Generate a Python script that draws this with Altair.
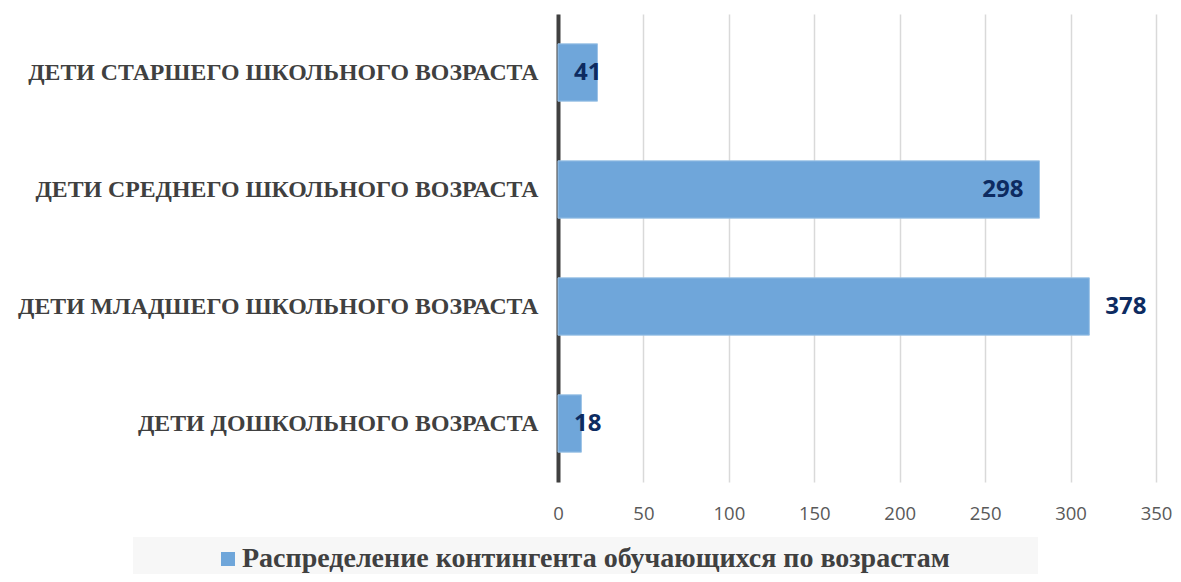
import altair as alt
import pandas as pd

categories = [
    "ДЕТИ СТАРШЕГО ШКОЛЬНОГО ВОЗРАСТА",
    "ДЕТИ СРЕДНЕГО ШКОЛЬНОГО ВОЗРАСТА",
    "ДЕТИ МЛАДШЕГО ШКОЛЬНОГО ВОЗРАСТА",
    "ДЕТИ ДОШКОЛЬНОГО ВОЗРАСТА",
]
bar_values = [23.1, 281.8, 311.0, 13.7]
label_values = [41, 298, 378, 18]
label_place = ["base", "inside", "outside", "base"]
series_name = "Распределение контингента обучающихся по возрастам"
x_ticks = [0, 50, 100, 150, 200, 250, 300, 350]

df = pd.DataFrame({
    "category": categories,
    "value": bar_values,
    "label": label_values,
    "place": label_place,
    "series": [series_name] * len(categories),
})

BLUE = "#6FA6DA"
LABEL_COLOR = "#0D2B61"

y_enc = alt.Y(
    "category:N",
    sort=categories,
    title=None,
    scale=alt.Scale(paddingInner=0.51, paddingOuter=0.255),
    axis=alt.Axis(
        labelFont="Liberation Serif",
        labelFontWeight="bold",
        labelFontSize=23.8,
        labelColor="#404040",
        labelPadding=20,
        labelLimit=600,
        ticks=False,
        domain=True,
        domainColor="#404040",
        domainWidth=4,
        grid=False,
    ),
)

x_scale = alt.Scale(domain=[0, 350], nice=False)

base = alt.Chart(df).encode(y=y_enc)

bars = base.mark_bar(stroke="#9DC3E6", strokeWidth=1).encode(
    x=alt.X(
        "value:Q",
        scale=x_scale,
        title=None,
        axis=alt.Axis(
            values=x_ticks,
            grid=True,
            gridColor="#D9D9D9",
            gridWidth=1.5,
            domain=False,
            ticks=False,
            labelFlush=False,
            labelFont="Open Sans",
            labelFontSize=18.5,
            labelColor="#595959",
            labelPadding=22,
        ),
    ),
    color=alt.Color(
        "series:N",
        scale=alt.Scale(range=[BLUE]),
        legend=alt.Legend(
            title=" ",
            titleOrient="right",
            titlePadding=80,
            orient="none",
            legendX=-425,
            legendY=523,
            fillColor="#F7F7F7",
            padding=8,
            symbolType="square",
            symbolSize=196,
            symbolStrokeWidth=0,
            symbolOffset=73,
            labelFont="Liberation Serif",
            labelFontWeight="bold",
            labelFontSize=28,
            labelColor="#404040",
            labelLimit=1000,
            labelOffset=0,
        ),
    ),
)

text_style = dict(font="Open Sans", fontWeight="bold", fontSize=24, color=LABEL_COLOR, baseline="middle")

t_base = base.transform_filter(alt.datum.place == "base").mark_text(align="left", dx=16, **text_style).encode(
    x=alt.datum(0, scale=x_scale), text="label:Q"
)
t_inside = base.transform_filter(alt.datum.place == "inside").mark_text(align="right", dx=-16, **text_style).encode(
    x=alt.X("value:Q", scale=x_scale), text="label:Q"
)
t_outside = base.transform_filter(alt.datum.place == "outside").mark_text(align="left", dx=16, **text_style).encode(
    x=alt.X("value:Q", scale=x_scale), text="label:Q"
)

chart = alt.layer(bars, t_base, t_inside, t_outside).properties(
    width=598,
    height=468,
    autosize=alt.AutoSizeParams(type="none"),
    padding={"left": 550, "top": 6, "right": 17, "bottom": 92},
).configure_view(stroke=None)

chart.save("out.html", embed_options={"renderer": "svg", "actions": False})
